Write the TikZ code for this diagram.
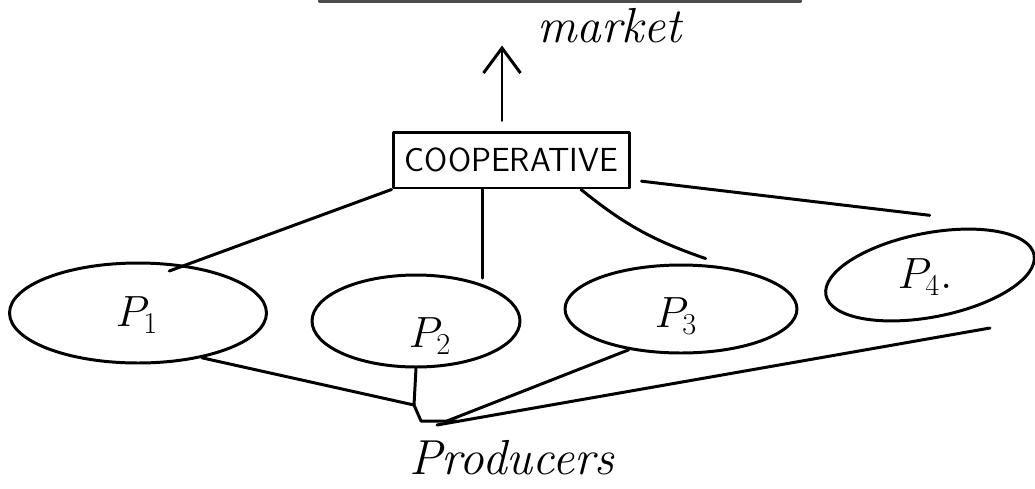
\documentclass[tikz,border=0pt]{standalone}
\usetikzlibrary{shapes.geometric,arrows.meta}

\tikzset{
	prod/.style={draw, ellipse, inner sep=0pt},
	ptext/.style={font=\fontsize{26}{28}\selectfont},
	hand/.style={font=\fontsize{28}{30}\selectfont\itshape},
}

\begin{document}
\begin{tikzpicture}[x=0.02cm, y=-0.02cm, line width=1.7pt, line cap=round, line join=round]
		\useasboundingbox (0,0) rectangle (1035,488);
		\draw[line width=2.4pt, black!70] (320,1) -- (800,1);

		\node[draw, minimum width=4.74cm, minimum height=1.12cm, inner sep=0pt, font=\sffamily\fontsize{19}{21}\selectfont] (coop) at (511.5,160) {COOPERATIVE};
		\node[hand, anchor=base west] (market) at (530,42) {market};
		\draw[-{Straight Barb[length=0.5cm, width=0.74cm]}] ([shift={(-9.5,-10)}]coop.north) -- ++(0,-75);

		\node[prod, minimum width=5.14cm, minimum height=2cm] (p1) at (138,313) {};
		\node[prod, minimum width=4.16cm, minimum height=1.84cm] (p2) at (416,321) {};
		\node[prod, minimum width=4.64cm, minimum height=1.76cm] (p3) at (681,309) {};
		\node[prod, minimum width=4.24cm, minimum height=1.68cm, rotate=11] (p4) at (930,275) {};

		\node[ptext] (n1) at (137,315) {$P_{1}$};
		\node[ptext] (n2) at (430,336) {$P_{2}$};
		\node[ptext] (n3) at (676,316) {$P_{3}$};
		\node[ptext] (n4) at (925,277) {$P_{4}.$};

		% links up to the cooperative
		\draw (coop.south west) -- ([yshift=-0.16cm]p1.58);
		\draw (coop.south -| p2.29) -- ([yshift=0.12cm]p2.29);
		\draw (coop.-23) to[bend right=10] ([yshift=0.12cm]p3.61);
		\draw ([xshift=0.2cm]coop.-10) -- ([shift={(8,-17)}]p4.north);

		% links down to the producers
		\coordinate (knee) at (414,405);
		\coordinate (hub) at (421,421);
		\coordinate (tail) at (990,328);
		\draw (p1.-35) -- (knee) -- (hub) -- ++(36,0);
		\draw (p2.south) -- (knee);
		\draw (p3.-142) -- ([xshift=0.52cm]hub);
		\draw (tail) -- ([shift={(16,4)}]hub);

		\node[hand, anchor=base west] (prods) at (402,474) {Producers};
\end{tikzpicture}
\end{document}
